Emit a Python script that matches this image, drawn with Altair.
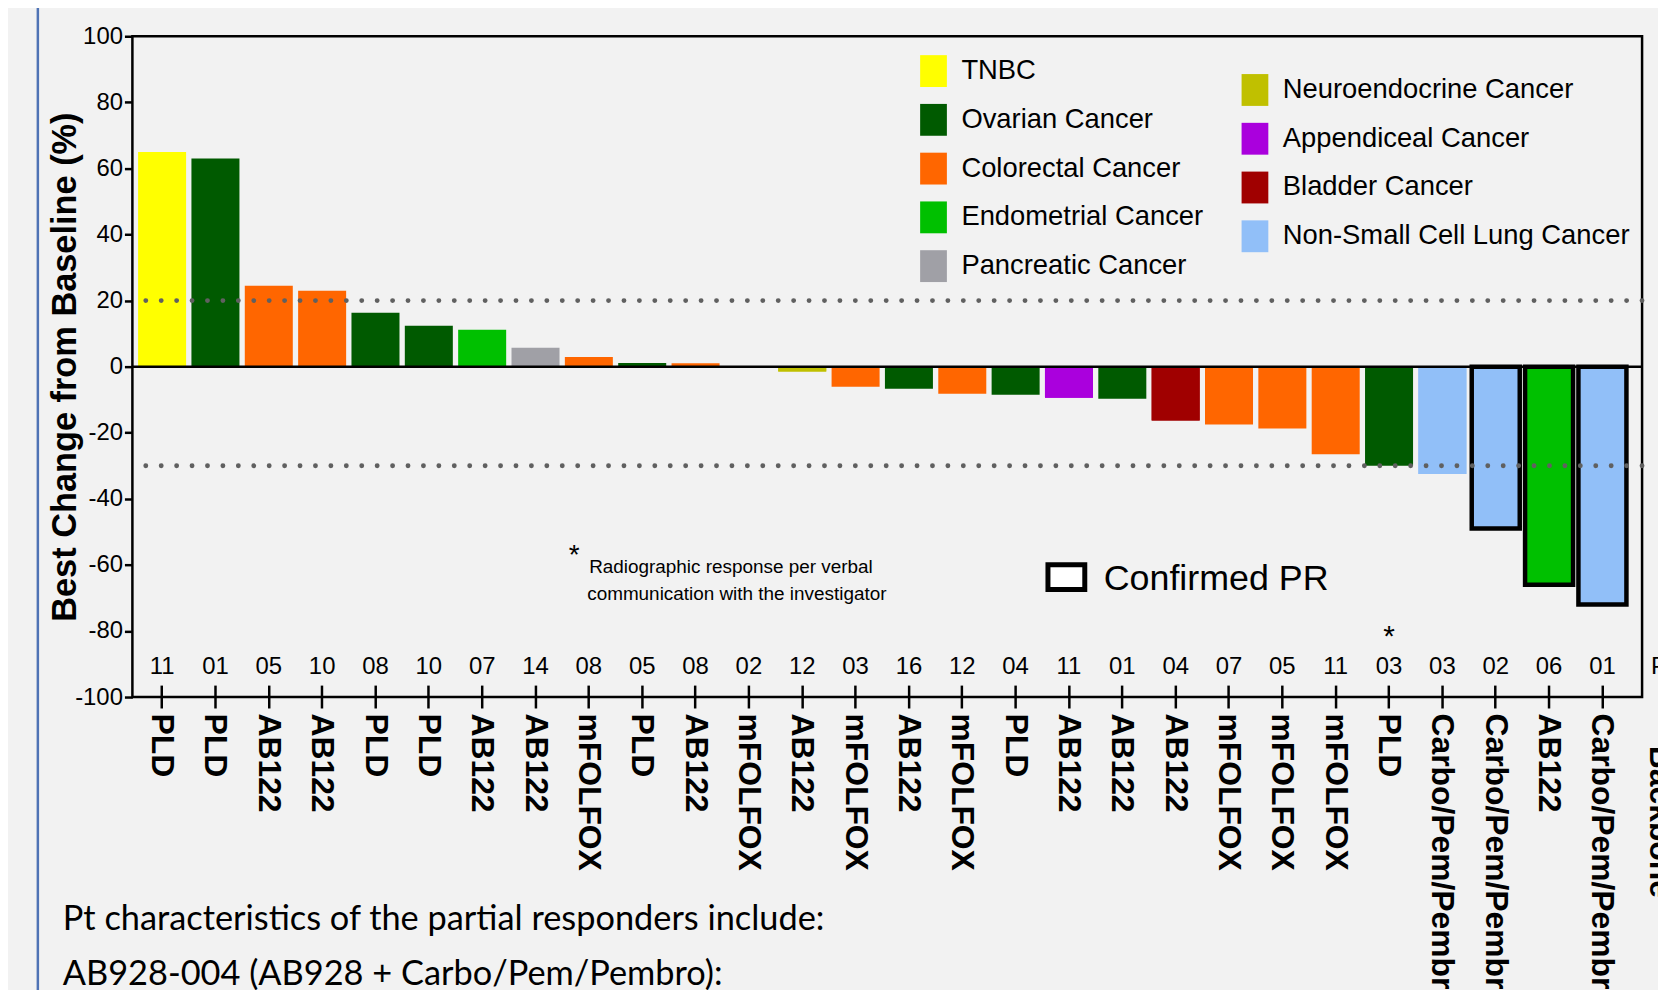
import json
import altair as alt
import pandas as pd

# ---------------- data ----------------
pt_ids = ["11", "01", "05", "10", "08", "10", "07", "14", "08", "05", "08", "02", "12", "03",
          "16", "12", "04", "11", "01", "04", "07", "05", "11", "03", "03", "02", "06", "01"]
treatments = ["PLD", "PLD", "AB122", "AB122", "PLD", "PLD", "AB122", "AB122", "mFOLFOX", "PLD",
              "AB122", "mFOLFOX", "AB122", "mFOLFOX", "AB122", "mFOLFOX", "PLD", "AB122", "AB122",
              "AB122", "mFOLFOX", "mFOLFOX", "mFOLFOX", "PLD", "Carbo/Pem/Pembro",
              "Carbo/Pem/Pembro", "AB122", "Carbo/Pem/Pembro"]
cancers = ["TNBC", "Ovarian Cancer", "Colorectal Cancer", "Colorectal Cancer", "Ovarian Cancer",
           "Ovarian Cancer", "Endometrial Cancer", "Pancreatic Cancer", "Colorectal Cancer",
           "Ovarian Cancer", "Colorectal Cancer", "Colorectal Cancer", "Neuroendocrine Cancer",
           "Colorectal Cancer", "Ovarian Cancer", "Colorectal Cancer", "Ovarian Cancer",
           "Appendiceal Cancer", "Ovarian Cancer", "Bladder Cancer", "Colorectal Cancer",
           "Colorectal Cancer", "Colorectal Cancer", "Ovarian Cancer",
           "Non-Small Cell Lung Cancer", "Non-Small Cell Lung Cancer", "Endometrial Cancer",
           "Non-Small Cell Lung Cancer"]
best_change = [65, 63, 24.5, 23, 16.3, 12.4, 11.2, 5.7, 2.9, 1.1, 1.0, 0, -1.5, -6.1, -6.7,
               -8.2, -8.5, -9.4, -9.7, -16.3, -17.5, -18.7, -26.5, -30, -32.5, -49, -66, -72]
confirmed_pr = [False] * 25 + [True] * 3
radiographic_star = [False] * 23 + [True] + [False] * 4

left_legend = ["TNBC", "Ovarian Cancer", "Colorectal Cancer", "Endometrial Cancer",
               "Pancreatic Cancer"]
left_colors = ["#FFFF00", "#005A00", "#FF6600", "#00C000", "#A0A0A6"]
right_legend = ["Neuroendocrine Cancer", "Appendiceal Cancer", "Bladder Cancer",
                "Non-Small Cell Lung Cancer"]
right_colors = ["#C0C000", "#AA00DD", "#A00000", "#91BFF8"]

ref_lines = [20, -30]
y_ticks = [-100, -80, -60, -40, -20, 0, 20, 40, 60, 80, 100]

footnote = ["Radiographic response per verbal", "communication with the investigator"]
bottom_text = ["Pt characteristics of the partial responders include:",
               "AB928-004 (AB928 + Carbo/Pem/Pembro):"]

# ---------------- build ----------------
df = pd.DataFrame({
    "idx": list(range(len(pt_ids))),
    "pt": pt_ids,
    "treatment": treatments,
    "cancer": cancers,
    "value": best_change,
    "confirmed": confirmed_pr,
    "star": radiographic_star,
})

ARIAL = "Liberation Sans, Arial, sans-serif"
BODY = "Lato, Open Sans, sans-serif"
W, H = 1517, 664

label_expr = json.dumps(treatments) + "[datum.value]"

x_enc = alt.X(
    "idx:O",
    scale=alt.Scale(paddingInner=0.1, paddingOuter=0.2, range=[-5, 1512]),
    axis=alt.Axis(
        title=None, labelExpr=label_expr, labelAngle=90, labelAlign="left",
        labelBaseline="middle", labelFont=ARIAL, labelFontWeight="bold",
        labelFontSize=32, labelColor="black", labelPadding=5, labelLimit=600,
        labelOverlap=False, domain=False, offset=-12, tickSize=23, tickWidth=2.5,
        tickColor="black", grid=False,
    ),
)
y_enc = alt.Y(
    "value:Q",
    scale=alt.Scale(domain=[-100, 100], nice=False),
    axis=alt.Axis(
        values=y_ticks, labelExpr="'' + datum.value",
        title="Best Change from Baseline (%)", titleFont=ARIAL,
        titleFontWeight="bold", titleFontSize=34.5, titleColor="black", titleX=-67,
        titleBaseline="middle", labelFont=ARIAL, labelFontSize=24, labelColor="black",
        labelPadding=2, tickSize=8, tickWidth=2.5, tickColor="black", domain=False,
        grid=False,
    ),
)

sym_path = "M-0.84,-1H0.84V1H-0.84Z"


def legend(values, lx, ly):
    return alt.Legend(
        title=None, orient="none", legendX=lx, legendY=ly, values=values,
        symbolType=sym_path, symbolSize=1024, symbolStrokeWidth=0, symbolOpacity=1,
        labelFont=ARIAL, labelFontSize=27.5, labelColor="black", labelOffset=12,
        rowPadding=17, labelLimit=600, direction="vertical",
    )


base = alt.Chart(df)

bars_right = base.transform_filter(
    alt.FieldOneOfPredicate(field="cancer", oneOf=right_legend)
).mark_bar().encode(
    x=x_enc, y=y_enc,
    color=alt.Color("cancer:N", scale=alt.Scale(domain=right_legend, range=right_colors),
                    legend=legend(right_legend, 1112, 38)),
)

bars_all = base.mark_bar().encode(
    x=x_enc, y=y_enc,
    color=alt.Color("cancer:N",
                    scale=alt.Scale(domain=left_legend + right_legend,
                                    range=left_colors + right_colors),
                    legend=legend(left_legend, 789, 19)),
)

outlines = base.transform_filter("datum.confirmed").mark_bar(
    fillOpacity=0, stroke="black", strokeWidth=4.5
).encode(x=x_enc, y=y_enc)

dotted = alt.Chart(pd.DataFrame({"value": ref_lines})).mark_rule(
    strokeDash=[0.1, 15.4], strokeCap="round", strokeWidth=4.8, color="#606060"
).encode(y=y_enc)

zero_line = alt.Chart(pd.DataFrame({"value": [0]})).mark_rule(
    color="black", strokeWidth=2.5
).encode(y=y_enc)

pt_text = base.mark_text(font=ARIAL, fontSize=24, color="black", baseline="middle").encode(
    x=x_enc, y=alt.value(634), text="pt:N"
)
star_text = base.transform_filter("datum.star").mark_text(
    font=ARIAL, fontSize=30, color="black", baseline="middle"
).encode(x=x_enc, y=alt.value(604), text=alt.value("*"))

one = pd.DataFrame({"k": [0]})

foot_star = alt.Chart(one).mark_text(font=ARIAL, fontSize=28, color="black",
                                     baseline="middle", align="center").encode(
    x=alt.value(444), y=alt.value(522), text=alt.value("*"))
foot_line1 = alt.Chart(pd.DataFrame({"t": [footnote[0]]})).mark_text(
    font=ARIAL, fontSize=19, color="black", baseline="middle", align="left"
).encode(x=alt.value(459), y=alt.value(533), text="t:N")
foot_line2 = alt.Chart(pd.DataFrame({"t": [footnote[1]]})).mark_text(
    font=ARIAL, fontSize=19, color="black", baseline="middle", align="left"
).encode(x=alt.value(457), y=alt.value(560), text="t:N")

pr_box = alt.Chart(one).mark_rect(fill="white", stroke="black", strokeWidth=5).encode(
    x=alt.value(920), x2=alt.value(957), y=alt.value(531), y2=alt.value(556))
pr_text = alt.Chart(one).mark_text(font=ARIAL, fontSize=36, color="black",
                                   baseline="middle", align="left").encode(
    x=alt.value(976), y=alt.value(545), text=alt.value("Confirmed PR"))

pt_head = alt.Chart(one).mark_text(font=ARIAL, fontSize=24, color="black",
                                   baseline="middle", align="left").encode(
    x=alt.value(1526), y=alt.value(634), text=alt.value("Pt"))
backbone = alt.Chart(one).mark_text(font=ARIAL, fontWeight="bold", fontSize=32, color="black",
                                    baseline="middle", align="left", angle=90).encode(
    x=alt.value(1535), y=alt.value(713), text=alt.value("Backbone"))

bottom1 = alt.Chart(pd.DataFrame({"t": [bottom_text[0]]})).mark_text(
    font=BODY, fontSize=34.5, color="black", baseline="middle", align="left"
).encode(x=alt.value(-70), y=alt.value(888), text="t:N")
bottom2 = alt.Chart(pd.DataFrame({"t": [bottom_text[1]]})).mark_text(
    font=BODY, fontSize=34.5, color="black", baseline="middle", align="left"
).encode(x=alt.value(-70), y=alt.value(943), text="t:N")

slide_edge = alt.Chart(one).mark_rule(color="#4F73B5", strokeWidth=2.5).encode(
    x=alt.value(-95), y=alt.value(-30), y2=alt.value(980))

chart = alt.layer(
    slide_edge, bars_right, bars_all, outlines, dotted, zero_line, pt_text, star_text,
    foot_star, foot_line1, foot_line2, pr_box, pr_text, pt_head, backbone, bottom1, bottom2,
).resolve_scale(color="independent").resolve_legend(color="independent").properties(
    width=W, height=H,
    padding={"left": 125, "top": 26, "right": 16, "bottom": 292},
    autosize=alt.AutoSizeParams(type="none"),
    background="#F2F2F2",
).configure_view(stroke="black", strokeWidth=2.5)

chart.save("out.html", embed_options={"renderer": "svg", "actions": False})
